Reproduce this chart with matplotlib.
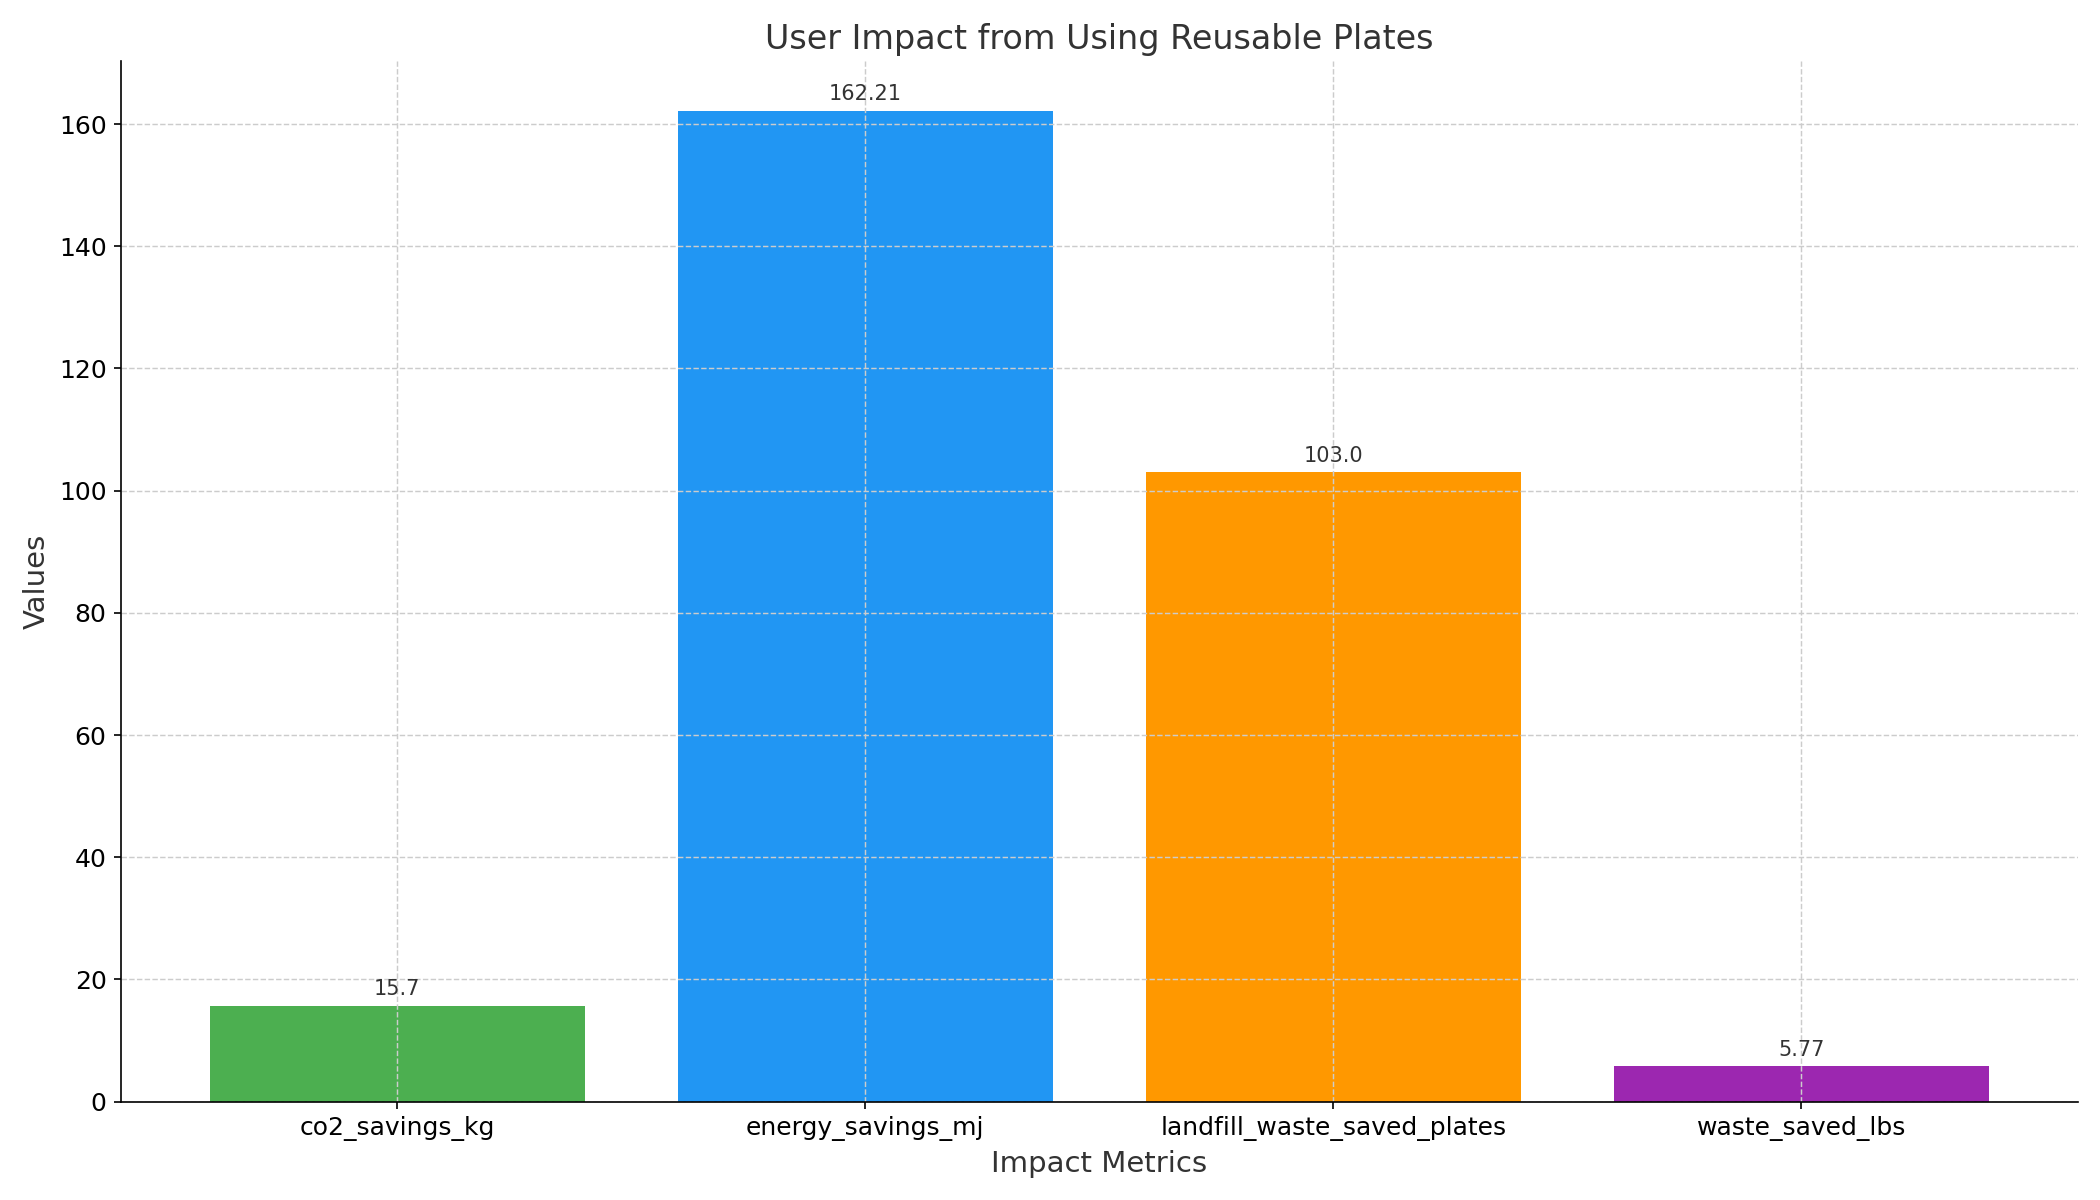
import matplotlib
matplotlib.use("Agg")
import matplotlib.pyplot as plt

metrics = ["co2_savings_kg", "energy_savings_mj", "landfill_waste_saved_plates", "waste_saved_lbs"]
values = [15.7, 162.21, 103.0, 5.77]
colors = ["#4CAF50", "#2196F3", "#FF9800", "#9C27B0"]

fig, ax = plt.subplots(figsize=(14, 8), dpi=150)
bars = ax.bar(metrics, values, color=colors, width=0.8)
for b, v in zip(bars, values):
    ax.annotate(str(v), (b.get_x() + b.get_width() / 2, b.get_height()),
                xytext=(0, 3), textcoords="offset points",
                ha="center", va="bottom", fontsize=10, color="#333333")

ax.set_title("User Impact from Using Reusable Plates", fontsize=16, color="#333333")
ax.set_xlabel("Impact Metrics", fontsize=14, color="#333333")
ax.set_ylabel("Values", fontsize=14, color="#333333")
ax.tick_params(labelsize=12)
ax.grid(True, linestyle="--", color="#cccccc", linewidth=0.7)
ax.spines["top"].set_visible(False)
ax.spines["right"].set_visible(False)

fig.tight_layout()
fig.savefig("out.png")
